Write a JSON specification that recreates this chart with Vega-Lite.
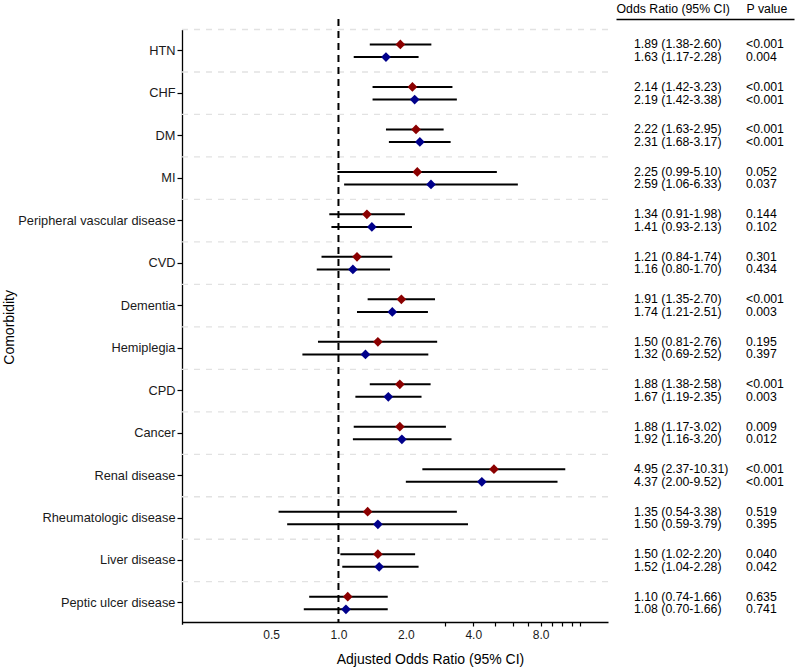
{
  "$schema": "https://vega.github.io/schema/vega-lite/v6.json",
  "padding": {"left": 2, "top": 2, "right": 2, "bottom": 2},
  "background": "white",
  "spacing": 6,
  "data": {"values": [
    {"comorbidity": "HTN", "model": "Model 1", "or": 1.89, "lo": 1.38, "hi": 2.60, "or_ci": "1.89 (1.38-2.60)", "p": "<0.001"},
    {"comorbidity": "HTN", "model": "Model 2", "or": 1.63, "lo": 1.17, "hi": 2.28, "or_ci": "1.63 (1.17-2.28)", "p": "0.004"},
    {"comorbidity": "CHF", "model": "Model 1", "or": 2.14, "lo": 1.42, "hi": 3.23, "or_ci": "2.14 (1.42-3.23)", "p": "<0.001"},
    {"comorbidity": "CHF", "model": "Model 2", "or": 2.19, "lo": 1.42, "hi": 3.38, "or_ci": "2.19 (1.42-3.38)", "p": "<0.001"},
    {"comorbidity": "DM", "model": "Model 1", "or": 2.22, "lo": 1.63, "hi": 2.95, "or_ci": "2.22 (1.63-2.95)", "p": "<0.001"},
    {"comorbidity": "DM", "model": "Model 2", "or": 2.31, "lo": 1.68, "hi": 3.17, "or_ci": "2.31 (1.68-3.17)", "p": "<0.001"},
    {"comorbidity": "MI", "model": "Model 1", "or": 2.25, "lo": 0.99, "hi": 5.10, "or_ci": "2.25 (0.99-5.10)", "p": "0.052"},
    {"comorbidity": "MI", "model": "Model 2", "or": 2.59, "lo": 1.06, "hi": 6.33, "or_ci": "2.59 (1.06-6.33)", "p": "0.037"},
    {"comorbidity": "Peripheral vascular disease", "model": "Model 1", "or": 1.34, "lo": 0.91, "hi": 1.98, "or_ci": "1.34 (0.91-1.98)", "p": "0.144"},
    {"comorbidity": "Peripheral vascular disease", "model": "Model 2", "or": 1.41, "lo": 0.93, "hi": 2.13, "or_ci": "1.41 (0.93-2.13)", "p": "0.102"},
    {"comorbidity": "CVD", "model": "Model 1", "or": 1.21, "lo": 0.84, "hi": 1.74, "or_ci": "1.21 (0.84-1.74)", "p": "0.301"},
    {"comorbidity": "CVD", "model": "Model 2", "or": 1.16, "lo": 0.80, "hi": 1.70, "or_ci": "1.16 (0.80-1.70)", "p": "0.434"},
    {"comorbidity": "Dementia", "model": "Model 1", "or": 1.91, "lo": 1.35, "hi": 2.70, "or_ci": "1.91 (1.35-2.70)", "p": "<0.001"},
    {"comorbidity": "Dementia", "model": "Model 2", "or": 1.74, "lo": 1.21, "hi": 2.51, "or_ci": "1.74 (1.21-2.51)", "p": "0.003"},
    {"comorbidity": "Hemiplegia", "model": "Model 1", "or": 1.50, "lo": 0.81, "hi": 2.76, "or_ci": "1.50 (0.81-2.76)", "p": "0.195"},
    {"comorbidity": "Hemiplegia", "model": "Model 2", "or": 1.32, "lo": 0.69, "hi": 2.52, "or_ci": "1.32 (0.69-2.52)", "p": "0.397"},
    {"comorbidity": "CPD", "model": "Model 1", "or": 1.88, "lo": 1.38, "hi": 2.58, "or_ci": "1.88 (1.38-2.58)", "p": "<0.001"},
    {"comorbidity": "CPD", "model": "Model 2", "or": 1.67, "lo": 1.19, "hi": 2.35, "or_ci": "1.67 (1.19-2.35)", "p": "0.003"},
    {"comorbidity": "Cancer", "model": "Model 1", "or": 1.88, "lo": 1.17, "hi": 3.02, "or_ci": "1.88 (1.17-3.02)", "p": "0.009"},
    {"comorbidity": "Cancer", "model": "Model 2", "or": 1.92, "lo": 1.16, "hi": 3.20, "or_ci": "1.92 (1.16-3.20)", "p": "0.012"},
    {"comorbidity": "Renal disease", "model": "Model 1", "or": 4.95, "lo": 2.37, "hi": 10.31, "or_ci": "4.95 (2.37-10.31)", "p": "<0.001"},
    {"comorbidity": "Renal disease", "model": "Model 2", "or": 4.37, "lo": 2.00, "hi": 9.52, "or_ci": "4.37 (2.00-9.52)", "p": "<0.001"},
    {"comorbidity": "Rheumatologic disease", "model": "Model 1", "or": 1.35, "lo": 0.54, "hi": 3.38, "or_ci": "1.35 (0.54-3.38)", "p": "0.519"},
    {"comorbidity": "Rheumatologic disease", "model": "Model 2", "or": 1.50, "lo": 0.59, "hi": 3.79, "or_ci": "1.50 (0.59-3.79)", "p": "0.395"},
    {"comorbidity": "Liver disease", "model": "Model 1", "or": 1.50, "lo": 1.02, "hi": 2.20, "or_ci": "1.50 (1.02-2.20)", "p": "0.040"},
    {"comorbidity": "Liver disease", "model": "Model 2", "or": 1.52, "lo": 1.04, "hi": 2.28, "or_ci": "1.52 (1.04-2.28)", "p": "0.042"},
    {"comorbidity": "Peptic ulcer disease", "model": "Model 1", "or": 1.10, "lo": 0.74, "hi": 1.66, "or_ci": "1.10 (0.74-1.66)", "p": "0.635"},
    {"comorbidity": "Peptic ulcer disease", "model": "Model 2", "or": 1.08, "lo": 0.70, "hi": 1.66, "or_ci": "1.08 (0.70-1.66)", "p": "0.741"}
  ]},
  "hconcat": [
    {
      "width": 426,
      "height": 603,
      "layer": [
        {
          "transform": [{"filter": "datum.model === 'Model 1'"}],
          "mark": {"type": "rule", "strokeDash": [6, 6], "color": "#e2e2e2", "strokeWidth": 1.3},
          "encoding": {
            "y": {
              "field": "comorbidity", "type": "nominal", "bandPosition": 0,
              "scale": {"domain": ["HTN", "CHF", "DM", "MI", "Peripheral vascular disease", "CVD", "Dementia", "Hemiplegia", "CPD", "Cancer", "Renal disease", "Rheumatologic disease", "Liver disease", "Peptic ulcer disease"], "range": [10.5, 605.2], "paddingInner": 0, "paddingOuter": 0},
              "axis": {
                "title": "Comorbidity", "titleFontSize": 14, "titleFontWeight": "normal", "titleColor": "black", "titlePadding": 1,
                "labelFontSize": 12.8, "labelColor": "#1a1a1a", "labelPadding": 2,
                "tickSize": 5, "tickColor": "black", "tickWidth": 1.2,
                "domainColor": "black", "domainWidth": 1.3, "grid": false
              }
            }
          }
        },
        {
          "data": {"values": [{"ref": 1}]},
          "mark": {"type": "rule", "strokeDash": [7, 5], "color": "black", "strokeWidth": 2},
          "encoding": {"x": {"field": "ref", "type": "quantitative"}}
        },
        {
          "mark": {"type": "rule", "color": "black", "strokeWidth": 2},
          "encoding": {
            "x": {"field": "lo", "type": "quantitative"},
            "x2": {"field": "hi"},
            "y": {"field": "comorbidity", "type": "nominal"},
            "yOffset": {"field": "model", "type": "nominal", "scale": {"domain": ["Model 1", "Model 2"], "paddingInner": 0, "paddingOuter": 0.686}}
          }
        },
        {
          "mark": {"type": "point", "shape": "diamond", "filled": true, "size": 95, "opacity": 1},
          "encoding": {
            "x": {
              "field": "or", "type": "quantitative",
              "scale": {"type": "log", "domain": [0.2, 16], "nice": false},
              "axis": {
                "values": [0.5, 1, 2, 3, 4, 5, 6, 7, 8, 9, 10, 11, 12],
                "labelExpr": "indexof([0.5, 1, 2, 4, 8], datum.value) >= 0 ? format(datum.value, '.1f') : ''",
                "tickOpacity": {"condition": {"test": "datum.value < 3", "value": 0}, "value": 1},
                "grid": false, "domainColor": "black", "domainWidth": 1.3,
                "tickColor": "black", "tickSize": 4, "tickWidth": 1.2,
                "labelFontSize": 12, "labelColor": "#1a1a1a", "labelPadding": 3, "labelFlush": false,
                "title": "Adjusted Odds Ratio (95% CI)", "titleFontSize": 14, "titleFontWeight": "normal", "titleColor": "black",
                "titlePadding": 12, "titleX": 248
              }
            },
            "y": {"field": "comorbidity", "type": "nominal"},
            "yOffset": {"field": "model", "type": "nominal"},
            "color": {"field": "model", "type": "nominal", "scale": {"domain": ["Model 1", "Model 2"], "range": ["#8B0000", "#00008B"]}, "legend": null}
          }
        }
      ]
    },
    {
      "width": 178,
      "height": 603,
      "layer": [
        {
          "mark": {"type": "text", "align": "left", "baseline": "middle", "fontSize": 12.3, "color": "black"},
          "encoding": {
            "x": {
              "datum": "Odds Ratio (95% CI)", "type": "nominal",
              "scale": {"type": "point", "domain": ["Odds Ratio (95% CI)", "P value"], "padding": 0.2946, "align": 0.2727},
              "axis": {
                "orient": "top", "title": null, "ticks": false,
                "labelAlign": "left",
                "labelOffset": {"condition": {"test": "datum.value === 'Odds Ratio (95% CI)'", "value": -18}, "value": 0},
                "labelPadding": 4, "labelFontSize": 12.3, "labelColor": "black", "labelAngle": 0,
                "domainColor": "black", "domainWidth": 1.3, "grid": false
              }
            },
            "y": {
              "field": "comorbidity", "type": "nominal",
              "scale": {"domain": ["HTN", "CHF", "DM", "MI", "Peripheral vascular disease", "CVD", "Dementia", "Hemiplegia", "CPD", "Cancer", "Renal disease", "Rheumatologic disease", "Liver disease", "Peptic ulcer disease"], "range": [10.5, 605.2], "paddingInner": 0, "paddingOuter": 0},
              "axis": null
            },
            "yOffset": {"field": "model", "type": "nominal", "scale": {"domain": ["Model 1", "Model 2"], "paddingInner": 0, "paddingOuter": 0.686}},
            "text": {"field": "or_ci"}
          }
        },
        {
          "mark": {"type": "text", "align": "left", "baseline": "middle", "fontSize": 12.3, "color": "black"},
          "encoding": {
            "x": {"datum": "P value", "type": "nominal"},
            "y": {"field": "comorbidity", "type": "nominal"},
            "yOffset": {"field": "model", "type": "nominal"},
            "text": {"field": "p"}
          }
        }
      ]
    }
  ],
  "config": {
    "font": "Liberation Sans",
    "view": {"stroke": null},
    "axis": {"labelFont": "Liberation Sans", "titleFont": "Liberation Sans"},
    "text": {"font": "Liberation Sans"}
  }
}
